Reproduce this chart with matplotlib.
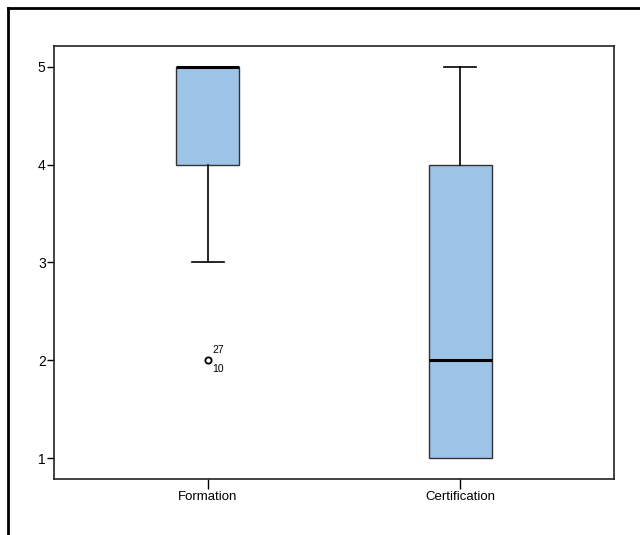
import matplotlib
matplotlib.use("Agg")
import matplotlib.pyplot as plt
from matplotlib.lines import Line2D

plt.rcParams['font.family'] = ['Liberation Sans', 'DejaVu Sans']

# box plot summary per group
groups = ['Formation', 'Certification']
q1 = [4, 1]
med = [5, 2]
q3 = [5, 4]
whislo = [3, 1]
whishi = [5, 5]
outliers = [[2], []]
outlier_ids = [['27', '10'], []]

stats = []
for i, name in enumerate(groups):
    stats.append({'label': name, 'q1': q1[i], 'med': med[i], 'q3': q3[i],
                  'whislo': whislo[i], 'whishi': whishi[i], 'fliers': outliers[i]})

fig = plt.figure(figsize=(6.4, 5.35), dpi=100)
ax = fig.add_axes([54 / 640, 1 - 479 / 535, 560 / 640, 433 / 535])

positions = [1, 2]
bp = ax.bxp(stats, positions=positions, widths=0.25, patch_artist=True,
            boxprops=dict(facecolor='#9dc3e6', edgecolor='#333333', linewidth=1.0),
            medianprops=dict(color='black', linewidth=2.2),
            whiskerprops=dict(color='black', linewidth=1.2),
            capprops=dict(color='black', linewidth=1.2),
            capwidths=0.125,
            flierprops=dict(marker='o', markersize=4.5, markerfacecolor='white',
                            markeredgecolor='black', markeredgewidth=1.3))

# caps that sit on the box edge are not drawn separately
for i in range(len(groups)):
    if whislo[i] == q1[i]:
        bp['caps'][2 * i].set_visible(False)
    if whishi[i] == q3[i]:
        bp['caps'][2 * i + 1].set_visible(False)

# case numbers next to outliers
for i, ids in enumerate(outlier_ids):
    if ids:
        y = outliers[i][0]
        ax.annotate(ids[0], (positions[i], y), xytext=(3, 4), textcoords='offset points',
                    fontsize=7.5, ha='left', va='bottom')
        ax.annotate(ids[1], (positions[i], y), xytext=(3, -3), textcoords='offset points',
                    fontsize=7.5, ha='left', va='top')

ax.set_xlim(0.389, 2.611)
ax.set_ylim(0.786, 5.214)
ax.set_yticks([1, 2, 3, 4, 5])
ax.set_xticks(positions)
ax.set_xticklabels(groups)
ax.tick_params(axis='y', length=5, width=1, labelsize=10, pad=1)
ax.tick_params(axis='x', length=7, width=1, labelsize=9.5, pad=2)
for s in ax.spines.values():
    s.set_linewidth(1.2)
    s.set_color('#222222')

# outer frame (top and left edges only visible)
fig.add_artist(Line2D([8 / 640, 1], [1 - 8 / 535, 1 - 8 / 535], transform=fig.transFigure,
                      color='black', linewidth=2))
fig.add_artist(Line2D([8 / 640, 8 / 640], [0, 1 - 8 / 535], transform=fig.transFigure,
                      color='black', linewidth=2))

fig.savefig('out.png', dpi=100)
